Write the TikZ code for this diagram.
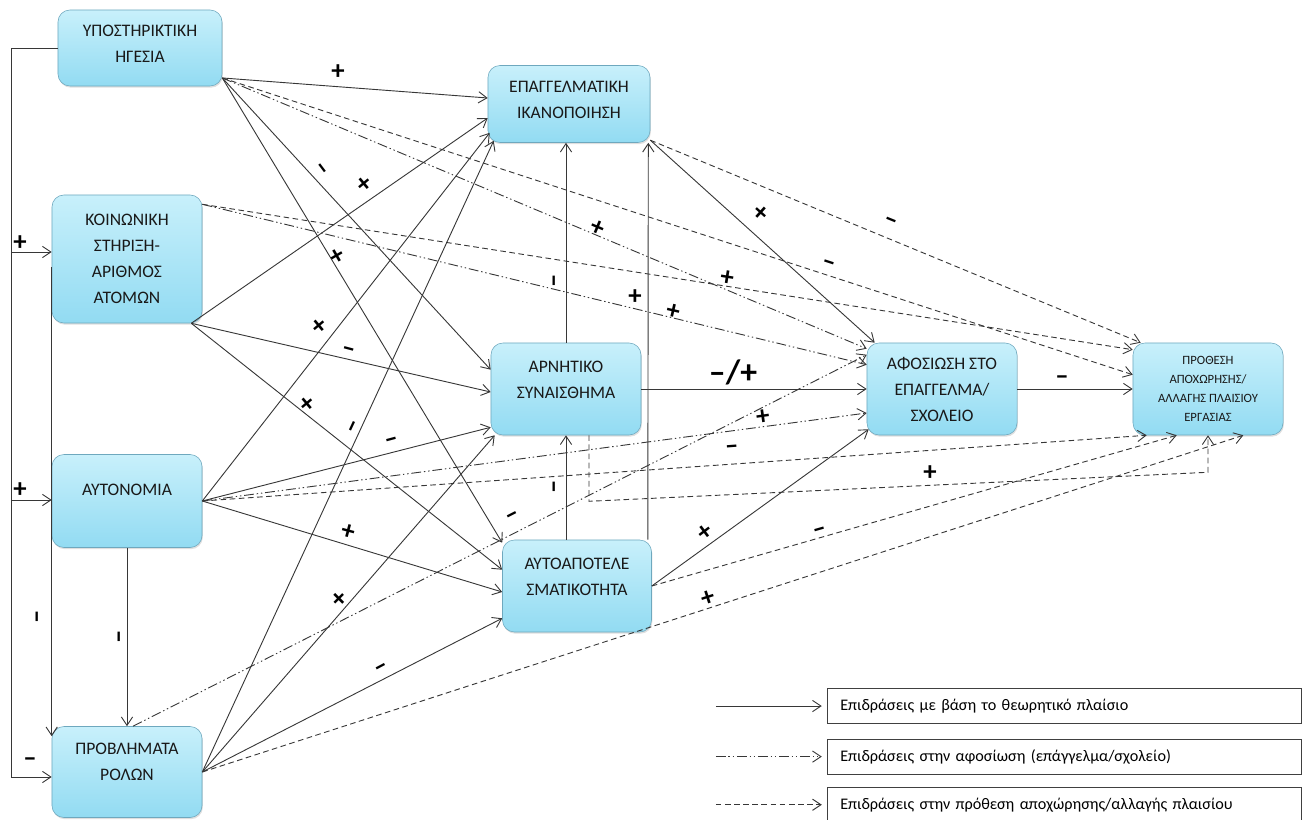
\documentclass[tikz,border=0pt]{standalone}
\usepackage{fontspec}
\setmainfont{Carlito}
\usepackage{tikz}
\usetikzlibrary{arrows.meta,calc,positioning,shadows}
\definecolor{boxtop}{RGB}{200,240,251}
\definecolor{boxbot}{RGB}{146,219,242}
\definecolor{boxline}{RGB}{110,168,190}
\definecolor{edge}{RGB}{55,55,55}
\tikzset{%
	factor/.style    = {draw=boxline, rounded corners=0.3cm, top color=boxtop, bottom color=boxbot, align=center, text=black!90, font=\fontsize{12.5}{18.5}\selectfont, drop shadow={opacity=0.25, shadow xshift=0.6pt, shadow yshift=-1.2pt}},
	arr/.style       = {draw=edge, line width=0.65pt, ->},
	theory/.style    = {arr},
	commit/.style    = {arr, dash pattern=on 7pt off 2pt on 1pt off 2pt on 1pt off 2pt},
	quit/.style      = {arr, dash pattern=on 4pt off 2.5pt},
	sign/.style      = {inner sep=0pt, font=\fontsize{19}{19}\bfseries\selectfont},
	legendbox/.style = {draw=black!75, line width=0.8pt, minimum width=11.85cm, minimum height=0.875cm, text width=11.2cm, inner xsep=0.3cm, align=left, font=\fontsize{11.5}{13}\selectfont},
}

\begin{document}
\begin{tikzpicture}[x=0.025cm, y=-0.025cm, >={Straight Barb[length=6pt,width=8pt]}]
	\useasboundingbox (0,0) rectangle (1308,820);

	% factors
	\node[factor, minimum width=4.1cm, minimum height=1.9cm] (hg) at (140,48) {ΥΠΟΣΤΗΡΙΚΤΙΚΗ\\ΗΓΕΣΙΑ\\[-12pt]\mbox{}};
	\node[factor, minimum width=3.75cm, minimum height=3.2cm] (ks) at (127,259) {ΚΟΙΝΩΝΙΚΗ\\ΣΤΗΡΙΞΗ-\\ΑΡΙΘΜΟΣ\\ΑΤΟΜΩΝ};
	\node[factor, minimum width=3.75cm, minimum height=2.325cm] (au) at (127,501) {ΑΥΤΟΝΟΜΙΑ\\[-3pt]\mbox{}};
	\node[factor, minimum width=3.75cm, minimum height=2.275cm] (pr) at (127,772) {ΠΡΟΒΛΗΜΑΤΑ\\ΡΟΛΩΝ\\[-4pt]\mbox{}};
	\node[factor, minimum width=4.05cm, minimum height=1.925cm] (ei) at (569,104) {ΕΠΑΓΓΕΛΜΑΤΙΚΗ\\ΙΚΑΝΟΠΟΙΗΣΗ\\[-12pt]\mbox{}};
	\node[factor, minimum width=3.75cm, minimum height=2.3cm] (ar) at (566,389) {ΑΡΝΗΤΙΚΟ\\ΣΥΝΑΙΣΘΗΜΑ\\[-5pt]\mbox{}};
	\node[factor, minimum width=3.725cm, minimum height=2.3cm] (ae) at (577,586) {ΑΥΤΟΑΠΟΤΕΛΕ\\ΣΜΑΤΙΚΟΤΗΤΑ\\[-5pt]\mbox{}};
	\node[factor, minimum width=3.75cm, minimum height=2.3cm] (af) at (942,389) {ΑΦΟΣΙΩΣΗ ΣΤΟ\\ΕΠΑΓΓΕΛΜΑ/\\ΣΧΟΛΕΙΟ};
	\node[factor, minimum width=3.75cm, minimum height=2.3cm, font=\fontsize{9}{13.5}\selectfont] (pa) at (1208,389) {ΠΡΟΘΕΣΗ\\ΑΠΟΧΩΡΗΣΗΣ/\\ΑΛΛΑΓΗΣ ΠΛΑΙΣΙΟΥ\\ΕΡΓΑΣΙΑΣ};

	% left bracket
	\coordinate (lt) at ($(hg.west)+(-46,0)$);
	\draw[theory] (hg.west) -- (lt) |- ($(pr.west)+(0,5)$);
	\draw[theory] ($(lt |- ks.west)+(0,-7)$) -- ($(ks.west)+(0,-7)$);
	\draw[theory] ($(lt |- au.west)+(0,-1)$) -- ($(au.west)+(0,-1)$);
	\draw[theory] ($(ks.west)+(0,8)$) -- ($(ks.west |- pr.north)+(0,10)$);
	\draw[theory] (au.south) -- (pr.north);

	% from hg
	\draw[theory] (hg.-20) -- ($(ei.west)+(0,-6)$);
	\draw[theory] (hg.-20) -- ($(ar.north west)+(0,27)$);
	\draw[theory] (hg.-20) -- ($(ae.north west)+(0,3)$);
	\draw[commit] (hg.-20) -- ($(af.north west)+(0,6)$);
	\draw[quit]   (hg.-20) -- ($(pa.north west)+(0,32)$);

	% from ks
	\draw[theory] (ks.-45) -- ($(ei.west)+(0,14)$);
	\draw[theory] (ks.-45) -- ($(ar.west)+(0,3)$);
	\draw[theory] (ks.-45) -- ($(ae.north west)+(0,30)$);
	\draw[commit] (ks.36) -- ($(af.north west)+(0,22)$);
	\draw[quit]   (ks.36) -- ($(pa.north west)+(0,7)$);

	% from au
	\draw[theory] (au.east) -- ($(ei.south west)+(2,-10)$);
	\draw[theory] (au.east) -- ($(ar.south west)+(0,-8)$);
	\draw[theory] (au.east) -- ($(ae.west)+(0,6)$);
	\draw[commit] (au.east) -- ($(af.west)+(0,24)$);
	\draw[quit]   (au.east) -- ($(pa.south west)+(14,0)$);

	% from pr
	\draw[theory] (pr.east) -- ($(ei.south west)+(6,-2)$);
	\draw[theory] (pr.east) -- ($(ar.south west)+(4,0)$);
	\draw[theory] (pr.east) -- ($(ae.south west)+(0,-14)$);
	\draw[commit] ($(pr.north)+(6,0)$) -- ($(af.north west)+(0,12)$);
	\draw[quit]   (pr.east) -- ($(pa.south east)+(-40,0)$);

	% middle column
	\draw[theory] (ei.-24) -- ($(af.north west)+(8,0)$);
	\draw[quit]   (ei.-24) -- ($(pa.north west)+(8,0)$);
	\draw[theory] (ar.north) -- (ar.north |- ei.south);
	\draw[theory] (ar.east) -- (af.west);
	\draw[quit]   ($(ar.south)+(23,0)$) -- ++(0,66) -- ($(pa.south)+(0,37)$) -- (pa.south);
	\draw[theory] (ar.south |- ae.north) -- (ar.south);
	\draw[theory] ($(ae.north east)+(-4,0)$) -- ($(ei.south east)+(-2,0)$);
	\draw[theory] (ae.east) -- ($(af.south west)+(2,-6)$);
	\draw[quit]   (ae.east) -- ($(pa.south west)+(44,0)$);
	\draw[theory] (af.east) -- (pa.west);

	% signs
	\node[sign] (s1) at (20,243) {+};
	\node[sign] (s2) at (20,490) {+};
	\node[sign] (s3) at (30,762) {–};
	\node[sign, rotate=90] (s4) at (40,617) {–};
	\node[sign, rotate=90] (s5) at (122,637) {–};
	\node[sign] (s6) at (338,72) {+};
	\node[sign, rotate=-53] (s7) at (320,170) {–};
	\node[sign, rotate=40] (s8) at (365,185) {+};
	\node[sign, rotate=30] (s9) at (338,257) {+};
	\node[sign, rotate=40] (s10) at (320,327) {+};
	\node[sign, rotate=-15] (s11) at (348,352) {–};
	\node[sign, rotate=40] (s12) at (308,405) {+};
	\node[sign, rotate=65] (s13) at (355,428) {–};
	\node[sign, rotate=15] (s14) at (392,443) {–};
	\node[sign, rotate=-15] (s15) at (348,532) {+};
	\node[sign, rotate=45] (s16) at (340,600) {+};
	\node[sign, rotate=28] (s17) at (382,670) {–};
	\node[sign, rotate=-23] (s18) at (598,228) {+};
	\node[sign, rotate=90] (s19) at (557,281) {–};
	\node[sign] (s20) at (635,297) {+};
	\node[sign, rotate=-13] (s21) at (673,312) {+};
	\node[sign, rotate=-9] (s22) at (727,278) {+};
	\node[sign, rotate=-42] (s23) at (760,213) {+};
	\node[sign, rotate=-18] (s24) at (828,265) {–};
	\node[sign, rotate=-22] (s25) at (890,223) {–};
	\node[sign, font=\fontsize{24}{24}\bfseries\selectfont] (s26) at (733,372) {–/+};
	\node[sign, rotate=8] (s27) at (763,417) {+};
	\node[sign, rotate=4] (s28) at (732,450) {–};
	\node[sign, rotate=90] (s29) at (557,487) {–};
	\node[sign, rotate=27] (s30) at (513,518) {–};
	\node[sign, rotate=37] (s31) at (705,533) {+};
	\node[sign, rotate=16] (s32) at (820,532) {–};
	\node[sign, rotate=18] (s33) at (708,598) {+};
	\node[sign] (s34) at (930,473) {+};
	\node[sign] (s35) at (1062,380) {–};

	% legend
	\node[legendbox, anchor=north east] (lg1) at (1302,688) {Επιδράσεις με βάση το θεωρητικό πλαίσιο};
	\node[legendbox, below=0.36cm of lg1] (lg2) {Επιδράσεις στην αφοσίωση (επάγγελμα/σχολείο)};
	\node[legendbox, below=0.3cm of lg2] (lg3) {Επιδράσεις στην πρόθεση αποχώρησης/αλλαγής πλαισίου};
	\draw[theory] ($(lg1.west)+(-111,0)$) -- ($(lg1.west)+(-5,0)$);
	\draw[commit] ($(lg2.west)+(-111,0)$) -- ($(lg2.west)+(-5,0)$);
	\draw[quit]   ($(lg3.west)+(-111,0)$) -- ($(lg3.west)+(-5,0)$);
\end{tikzpicture}
\end{document}
